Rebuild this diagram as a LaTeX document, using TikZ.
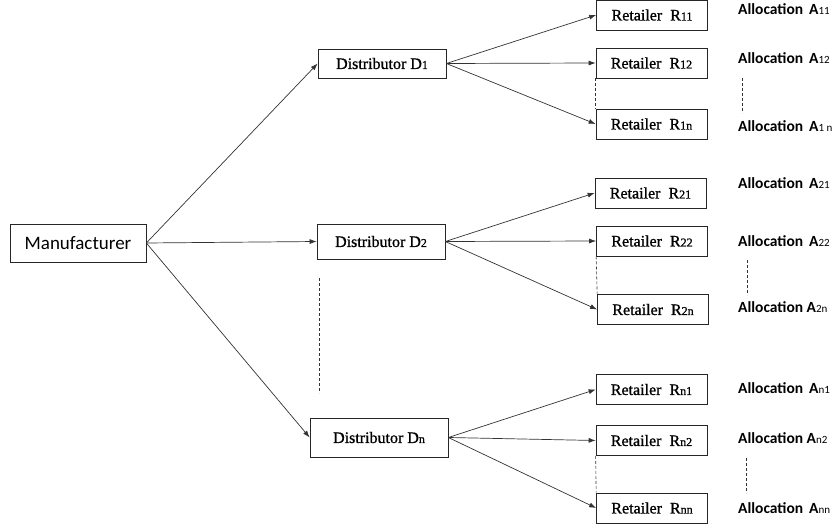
\documentclass[tikz,border=0pt]{standalone}
\usepackage{fontspec}
\setmainfont{Liberation Serif}
\newfontfamily\boxfont{Liberation Serif}[FakeBold=0.9]
\newfontfamily\allocfont{Carlito}
\usetikzlibrary{arrows.meta}

% small index digits sitting on the base line
\newcommand{\ridx}[1]{{\fontsize{12}{12}\selectfont #1}}
\newcommand{\aidx}[1]{{\mdseries\fontsize{11}{11}\selectfont #1}}

\begin{document}
\begin{tikzpicture}[x=1pt, y=-1pt,
  box/.style={draw=black!85, line width=0.7pt, inner sep=0pt,
              font=\boxfont\fontsize{16}{18}\selectfont},
  retbox/.style={box, minimum width=111pt, minimum height=30pt},
  alloc/.style={anchor=west, inner sep=0pt,
                font=\allocfont\bfseries\fontsize{15.5}{17}\selectfont},
  flow/.style={draw=black!80, line width=0.7pt,
               -{Latex[length=7pt,width=5pt]}},
  dots/.style={draw=black!80, line width=0.6pt, dash pattern=on 3pt off 2pt}]
\useasboundingbox (0,0) rectangle (836,529);

\node (man) at (78,243) [box, minimum width=136pt, minimum height=38pt,
  font=\allocfont\fontsize{19}{21}\selectfont] {Manufacturer};

\node (d1) at (382,63.5)  [box, minimum width=128pt, minimum height=29pt] {Distributor D\ridx{1}};
\node (d2) at (381,241.5) [box, minimum width=128pt, minimum height=35pt] {Distributor D\ridx{2}};
\node (dn) at (379,437.5) [box, minimum width=138pt, minimum height=39pt] {Distributor D\ridx{n}\hspace{12pt}};

\path[flow] (man.east) -- (d1.west);
\path[flow] (man.east) -- (d2.west);
\path[flow] (man.east) -- (dn.west);

\coordinate (gap1) at (319,278);
\coordinate (gap2) at (319,393);
\path[dots] (gap1) -- (gap2);

% first distributor
\node (r11) at (652,15)    [retbox] {Retailer\hspace{8pt}R\ridx{11}};
\node (r12) at (651.5,63)  [retbox] {Retailer\hspace{8pt}R\ridx{12}};
\node (r1n) at (651.5,124) [retbox] {Retailer\hspace{8pt}R\ridx{1n}};
\path[flow] (d1.east) -- (r11.west);
\path[flow] (d1.east) -- (r12.west);
\path[flow] (d1.east) -- (r1n.west);
\path[dots] (r12.south west) -- (r1n.north west);

% second distributor
\node (r21) at (650.5,193) [retbox] {Retailer\hspace{8pt}R\ridx{21}};
\node (r22) at (652,241)   [retbox] {Retailer\hspace{8pt}R\ridx{22}};
\node (r2n) at (653,309.5) [retbox] {Retailer\hspace{8pt}R\ridx{2n}};
\path[flow] (d2.east) -- (r21.west);
\path[flow] (d2.east) -- (r22.west);
\path[flow] (d2.east) -- (r2n.west);
\path[dots] (r22.south west) -- (r2n.north west);

% last distributor
\node (rn1) at (651.5,389.5) [retbox] {Retailer\hspace{8pt}R\ridx{n1}};
\node (rn2) at (651.5,440.5) [retbox] {Retailer\hspace{8pt}R\ridx{n2}};
\node (rnn) at (652,508)     [retbox] {Retailer\hspace{8pt}R\ridx{nn}};
\path[flow] (dn.east) -- (rn1.west);
\path[flow] (dn.east) -- (rn2.west);
\path[flow] (dn.east) -- (rnn.west);
\path[dots] (rn2.south west) -- (rnn.north west);

% allocations
\node (a11) at (738,9)   [alloc] {Allocation\hspace{6pt}A\aidx{11}};
\node (a12) at (738,58)  [alloc] {Allocation\hspace{6pt}A\aidx{12}};
\node (a1n) at (738,126) [alloc] {Allocation\hspace{6pt}A\aidx{1 n}};
\node (a21) at (738,183) [alloc] {Allocation\hspace{6pt}A\aidx{21}};
\node (a22) at (738,241) [alloc] {Allocation\hspace{6pt}A\aidx{22}};
\node (a2n) at (738,307) [alloc] {Allocation A\aidx{2n}};
\node (an1) at (738,388) [alloc] {Allocation\hspace{6pt}A\aidx{n1}};
\node (an2) at (738,438) [alloc] {Allocation A\aidx{n2}};
\node (ann) at (738,508) [alloc] {Allocation\hspace{6pt}A\aidx{nn}};

\coordinate (c1a) at (742,78);  \coordinate (c1b) at (742,113);
\coordinate (c2a) at (747,260); \coordinate (c2b) at (747,295);
\coordinate (c3a) at (746,458); \coordinate (c3b) at (746,493);
\path[dots] (c1a) -- (c1b);
\path[dots] (c2a) -- (c2b);
\path[dots] (c3a) -- (c3b);
\end{tikzpicture}
\end{document}
